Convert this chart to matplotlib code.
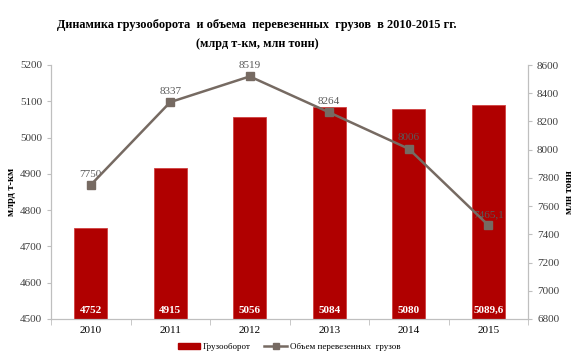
import matplotlib.pyplot as plt
import numpy as np
from matplotlib.lines import Line2D
from matplotlib.patches import Patch

years = ['2010', '2011', '2012', '2013', '2014', '2015']
turnover = [4752, 4915, 5056, 5084, 5080, 5089.6]
turnover_lbl = ['4752', '4915', '5056', '5084', '5080', '5089,6']
cargo = [7750, 8337, 8519, 8264, 8006, 7465.1]
cargo_lbl = ['7750', '8337', '8519', '8264', '8006', '7465,1']

plt.rcParams['font.family'] = 'Liberation Serif'
bar_c = '#b00000'
line_c = '#766a62'
ax_c = '#bfbfbf'

fig = plt.figure(figsize=(5.78, 3.59), dpi=100)
ax = fig.add_axes([51/578, 1-319/359, 477/578, 254/359])
x = np.arange(len(years))

ax.bar(x, turnover, width=0.41, color=bar_c, edgecolor='#d04040', linewidth=0.6, zorder=2)
ax.set_ylim(4500, 5200)
ax.set_xlim(-0.5, 5.5)
ax.set_yticks(np.arange(4500, 5201, 100))
ax.set_xticks(x)
ax.set_xticklabels(years)
ax.set_xticks(np.arange(-0.5, 5.6, 1), minor=True)
ax.tick_params(axis='x', which='major', length=0, labelsize=8, pad=5)
ax.tick_params(axis='x', which='minor', length=4, color=ax_c)
ax.tick_params(axis='y', labelsize=8, length=3, color=ax_c, labelcolor='#404040')
for i, v in enumerate(turnover):
    ax.text(i, 4512, turnover_lbl[i], ha='center', va='bottom', color='white',
            fontsize=8, fontweight='bold', zorder=3)
ax.set_ylabel('млрд т-км', fontsize=7.5, fontweight='bold', labelpad=3)

ax2 = ax.twinx()
ax2.plot(x, cargo, color=line_c, lw=1.8, marker='s', ms=6, zorder=4)
ax2.set_ylim(6800, 8600)
ax2.set_yticks(np.arange(6800, 8601, 200))
ax2.tick_params(axis='y', labelsize=8, length=3, color=ax_c, labelcolor='#404040')
for i, v in enumerate(cargo):
    ax2.text(i, v + 45, cargo_lbl[i], ha='center', va='bottom', color='#595959', fontsize=8)
ax2.set_ylabel('млн тонн', fontsize=7.5, fontweight='bold', rotation=90, labelpad=4)

for a in (ax, ax2):
    a.spines['top'].set_visible(False)
    for s in ('left', 'right', 'bottom'):
        a.spines[s].set_color(ax_c)

fig.text(257/578, 1-25/359, 'Динамика грузооборота  и объема  перевезенных  грузов  в 2010-2015 гг.',
         ha='center', va='center', fontsize=8.8, fontweight='bold')
fig.text(257/578, 1-44/359, '(млрд т-км, млн тонн)', ha='center', va='center',
         fontsize=8.8, fontweight='bold')

handles = [Patch(color=bar_c), Line2D([], [], color=line_c, lw=1.8, marker='s', ms=5)]
fig.legend(handles, ['Грузооборот', 'Объем перевезенных  грузов'], loc='center',
           bbox_to_anchor=(0.5, 1-347/359), ncol=2, frameon=False, fontsize=6.5,
           handlelength=2.5, handletextpad=0.3, columnspacing=1.5)

fig.savefig('out.png', dpi=100)
